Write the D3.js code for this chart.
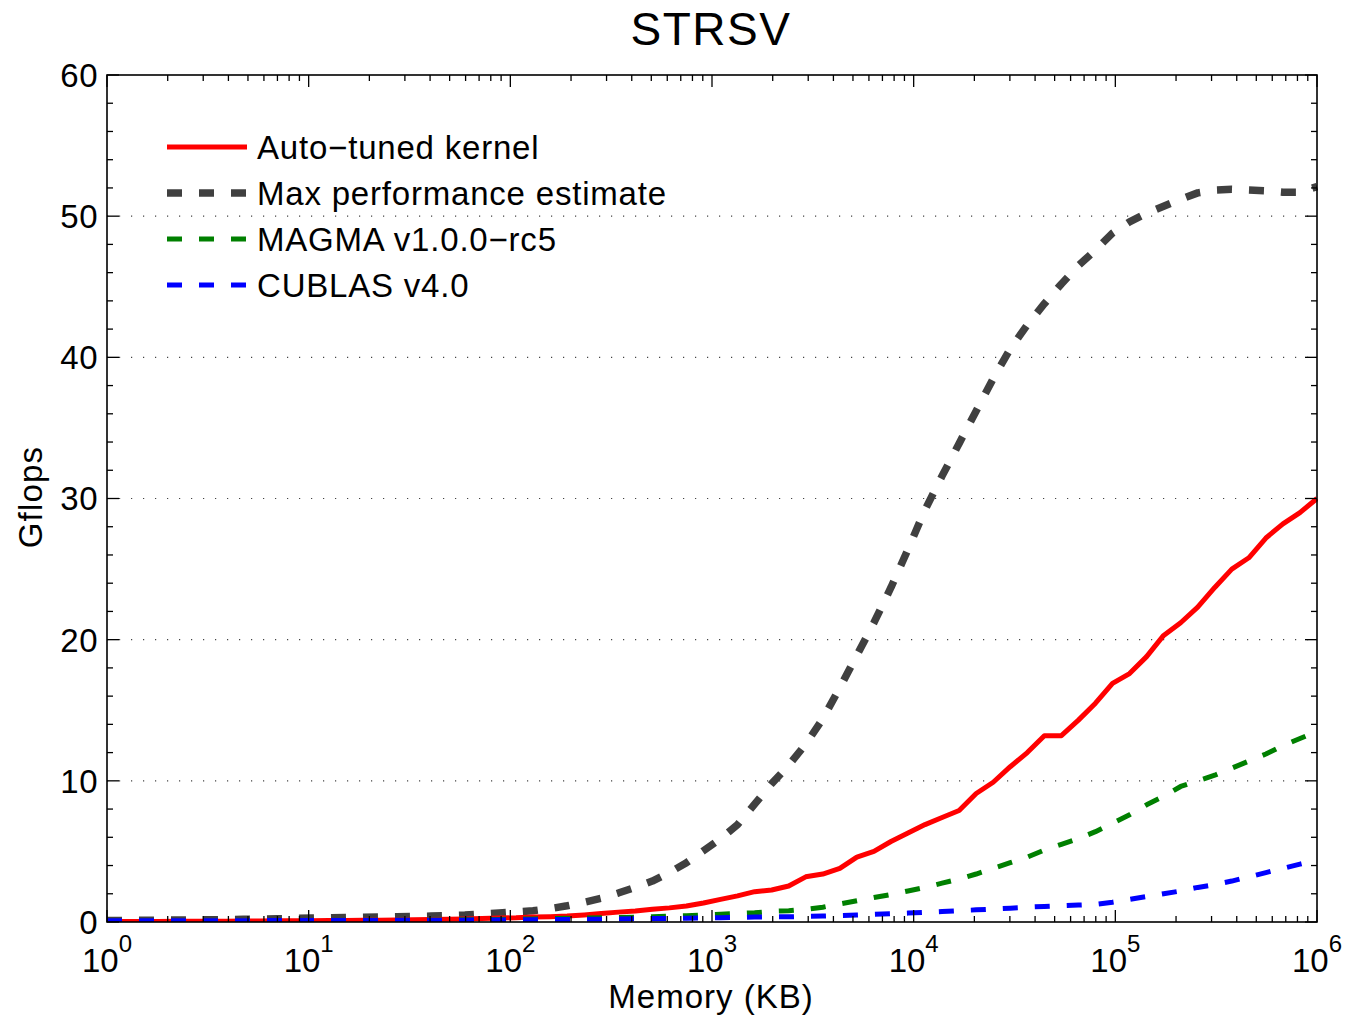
<!DOCTYPE html>
<html>
<head>
<meta charset="utf-8">
<script src="https://cdn.jsdelivr.net/npm/d3@7"></script>
<style>
  html, body { margin: 0; padding: 0; background: #fff; }
  svg { display: block; font-family: "Liberation Sans", Arial, Helvetica, sans-serif; }
</style>
</head>
<body>
<svg id="chart" width="1347" height="1019"></svg>
<script>
// Memory footprint of each run (KB)
const memoryKB = [
  1, 1.215, 1.476, 1.793, 2.178, 2.646, 3.214, 3.905, 4.744, 5.763, 7.0, 8.505,
  10.33, 12.55, 15.25, 18.52, 22.5, 27.33, 33.2, 40.33, 48.99, 59.52, 72.31, 87.84,
  106.7, 129.6, 157.5, 191.3, 232.4, 282.3, 342.9, 416.6, 506.1, 614.8, 746.9, 907.4,
  1102, 1339, 1627, 1976, 2401, 2916, 3543, 4304, 5228, 6352, 7716, 9373,
  11387, 13832, 16804, 20414, 24799, 30125, 36597, 44458, 54008, 65609, 79701, 96823,
  117620, 142885, 173576, 210860, 256152, 311173, 378012, 459207, 557843, 677666, 823226, 1000000
];

// Gflops per implementation
const autoTuned = [
  0.03, 0.03, 0.04, 0.04, 0.05, 0.05, 0.06, 0.06, 0.07, 0.07, 0.08, 0.08,
  0.09, 0.10, 0.11, 0.12, 0.13, 0.14, 0.16, 0.18, 0.20, 0.22, 0.25, 0.28,
  0.30, 0.35, 0.38, 0.42, 0.50, 0.60, 0.70, 0.78, 0.90, 1.00, 1.13, 1.35,
  1.60, 1.85, 2.15, 2.27, 2.55, 3.20, 3.40, 3.80, 4.60, 5.00, 5.70, 6.30,
  6.90, 7.40, 7.90, 9.10, 9.90, 11.0, 12.0, 13.2, 13.2, 14.3, 15.5, 16.9,
  17.6, 18.8, 20.3, 21.2, 22.3, 23.7, 25.0, 25.8, 27.2, 28.2, 29.0, 30.0
];
const maxEstimate = [
  0.10, 0.11, 0.12, 0.13, 0.14, 0.15, 0.16, 0.17, 0.19, 0.21, 0.23, 0.25,
  0.28, 0.30, 0.32, 0.34, 0.36, 0.38, 0.40, 0.42, 0.45, 0.49, 0.56, 0.64,
  0.72, 0.80, 0.95, 1.15, 1.40, 1.68, 2.05, 2.45, 2.90, 3.50, 4.20, 5.05,
  5.90, 6.90, 8.35, 9.80, 11.1, 12.6, 14.4, 16.6, 18.9, 21.2, 23.7, 26.4,
  29.2, 31.6, 33.9, 36.2, 38.5, 40.6, 42.3, 43.8, 45.2, 46.5, 47.6, 48.8,
  49.6, 50.2, 50.7, 51.2, 51.65, 51.85, 51.9, 51.85, 51.8, 51.7, 51.7, 52.1
];
const magma = [
  0.05, 0.05, 0.05, 0.06, 0.06, 0.06, 0.06, 0.07, 0.07, 0.07, 0.08, 0.08,
  0.08, 0.09, 0.09, 0.10, 0.11, 0.12, 0.13, 0.14, 0.15, 0.16, 0.17, 0.18,
  0.20, 0.22, 0.24, 0.26, 0.28, 0.30, 0.32, 0.34, 0.37, 0.41, 0.45, 0.50,
  0.55, 0.60, 0.66, 0.75, 0.80, 0.90, 1.05, 1.28, 1.50, 1.73, 1.95, 2.20,
  2.45, 2.75, 3.05, 3.40, 3.80, 4.20, 4.60, 5.10, 5.50, 5.90, 6.40, 7.00,
  7.60, 8.30, 8.90, 9.60, 10.0, 10.4, 10.9, 11.4, 11.9, 12.5, 13.0, 13.5
];
const cublas = [
  0.08, 0.08, 0.08, 0.08, 0.09, 0.09, 0.09, 0.09, 0.09, 0.10, 0.10, 0.10,
  0.10, 0.10, 0.11, 0.11, 0.11, 0.12, 0.12, 0.12, 0.13, 0.13, 0.14, 0.14,
  0.15, 0.16, 0.17, 0.18, 0.19, 0.20, 0.22, 0.23, 0.24, 0.25, 0.27, 0.28,
  0.30, 0.32, 0.35, 0.36, 0.37, 0.40, 0.42, 0.46, 0.50, 0.54, 0.58, 0.63,
  0.68, 0.74, 0.80, 0.86, 0.92, 0.98, 1.05, 1.10, 1.15, 1.20, 1.25, 1.40,
  1.60, 1.80, 2.00, 2.20, 2.45, 2.65, 2.90, 3.20, 3.50, 3.80, 4.10, 4.40
];

const seriesNames = ["Auto\u2212tuned kernel", "Max performance estimate", "MAGMA v1.0.0\u2212rc5", "CUBLAS v4.0"];
const xTickExponents = [0, 1, 2, 3, 4, 5, 6];
const yTickLabels = [0, 10, 20, 30, 40, 50, 60];

const series = [
  { name: seriesNames[0], values: autoTuned,   color: "#ff0000", width: 5,   dash: null },
  { name: seriesNames[1], values: maxEstimate, color: "#404040", width: 7.5, dash: "15,17" },
  { name: seriesNames[2], values: magma,       color: "#008000", width: 5,   dash: "15,17" },
  { name: seriesNames[3], values: cublas,      color: "#0000ff", width: 5,   dash: "15,17" }
];
// drawing order: estimate underneath, then kernels
const drawOrder = [1, 0, 2, 3];

const svg = d3.select("#chart");
const plotLeft = 107, plotRight = 1317, plotTop = 75, plotBottom = 922;

const x = d3.scaleLog().domain([1, 1e6]).range([plotLeft, plotRight]);
const y = d3.scaleLinear().domain([0, 60]).range([plotBottom, plotTop]);

// dotted horizontal grid
svg.append("g")
  .selectAll("line")
  .data(yTickLabels.filter(v => v > 0 && v < 60))
  .join("line")
  .attr("x1", plotLeft).attr("x2", plotRight)
  .attr("y1", d => y(d)).attr("y2", d => y(d))
  .attr("stroke", "#444").attr("stroke-width", 1.2)
  .attr("stroke-dasharray", "1.2,10.8");

// clip for series
svg.append("defs").append("clipPath").attr("id", "plotclip")
  .append("rect").attr("x", plotLeft).attr("y", plotTop - 10)
  .attr("width", plotRight - plotLeft + 1).attr("height", plotBottom - plotTop + 10);

const line = d3.line()
  .x((d, i) => x(memoryKB[i]))
  .y(d => y(d));

const plot = svg.append("g").attr("clip-path", "url(#plotclip)");
drawOrder.forEach(k => {
  const s = series[k];
  plot.append("path")
    .datum(s.values)
    .attr("d", line)
    .attr("fill", "none")
    .attr("stroke", s.color)
    .attr("stroke-width", s.width)
    .attr("stroke-linejoin", "round")
    .attr("stroke-dasharray", s.dash);
});

// axes box with inward ticks on all four sides
const majorLen = 12, minorLen = 6;
const ticksG = svg.append("g").attr("stroke", "#000").attr("stroke-width", 1.3);

const minorX = [];
for (let e = 0; e < 6; e++) for (let m = 2; m <= 9; m++) minorX.push(m * Math.pow(10, e));
const majorX = xTickExponents.map(e => Math.pow(10, e));

function vTicks(vals, len) {
  vals.forEach(v => {
    const px = x(v);
    ticksG.append("line").attr("x1", px).attr("x2", px).attr("y1", plotBottom).attr("y2", plotBottom - len);
    ticksG.append("line").attr("x1", px).attr("x2", px).attr("y1", plotTop).attr("y2", plotTop + len);
  });
}
vTicks(minorX, minorLen);
vTicks(majorX, majorLen);

const yMinor = d3.range(0, 61, 2).filter(v => v % 10 !== 0);
function hTicks(vals, len) {
  vals.forEach(v => {
    const py = y(v);
    ticksG.append("line").attr("x1", plotLeft).attr("x2", plotLeft + len).attr("y1", py).attr("y2", py);
    ticksG.append("line").attr("x1", plotRight).attr("x2", plotRight - len).attr("y1", py).attr("y2", py);
  });
}
hTicks(yMinor, minorLen);
hTicks(yTickLabels, majorLen);

svg.append("rect")
  .attr("x", plotLeft).attr("y", plotTop)
  .attr("width", plotRight - plotLeft).attr("height", plotBottom - plotTop)
  .attr("fill", "none").attr("stroke", "#000").attr("stroke-width", 1.6);

// y tick labels
svg.append("g")
  .selectAll("text")
  .data(yTickLabels)
  .join("text")
  .attr("x", plotLeft - 9)
  .attr("y", d => y(d))
  .attr("dy", "0.36em")
  .attr("text-anchor", "end")
  .attr("font-size", 33)
  .attr("letter-spacing", 0.5)
  .attr("fill", "#000")
  .text(d => d);

// x tick labels as powers of ten
const xl = svg.append("g")
  .selectAll("text")
  .data(xTickExponents)
  .join("text")
  .attr("x", d => x(Math.pow(10, d)))
  .attr("y", 972)
  .attr("text-anchor", "middle")
  .attr("font-size", 33)
  .attr("fill", "#000");
xl.append("tspan").text("10");
xl.append("tspan").attr("dy", -20).attr("font-size", 24).text(d => d);

// title and axis labels
svg.append("text")
  .attr("x", 711).attr("y", 45)
  .attr("text-anchor", "middle")
  .attr("font-size", 46)
  .attr("letter-spacing", 1.5)
  .text("STRSV");

svg.append("text")
  .attr("x", 711).attr("y", 1008)
  .attr("text-anchor", "middle")
  .attr("font-size", 33)
  .attr("letter-spacing", 1)
  .text("Memory (KB)");

svg.append("text")
  .attr("transform", "translate(42,497) rotate(-90)")
  .attr("text-anchor", "middle")
  .attr("font-size", 33)
  .attr("letter-spacing", 1.2)
  .text("Gflops");

// legend
const legendRowsY = [147, 193, 239, 285];
const lg = svg.append("g");
series.forEach((s, i) => {
  const yy = legendRowsY[i];
  lg.append("line")
    .attr("x1", 167).attr("x2", 247)
    .attr("y1", yy).attr("y2", yy)
    .attr("stroke", s.color)
    .attr("stroke-width", s.width)
    .attr("stroke-dasharray", s.dash);
  lg.append("text")
    .attr("x", 257).attr("y", yy)
    .attr("dy", "0.36em")
    .attr("font-size", 33)
    .attr("letter-spacing", 0.8)
    .attr("fill", "#000")
    .text(s.name);
});
</script>
</body>
</html>
